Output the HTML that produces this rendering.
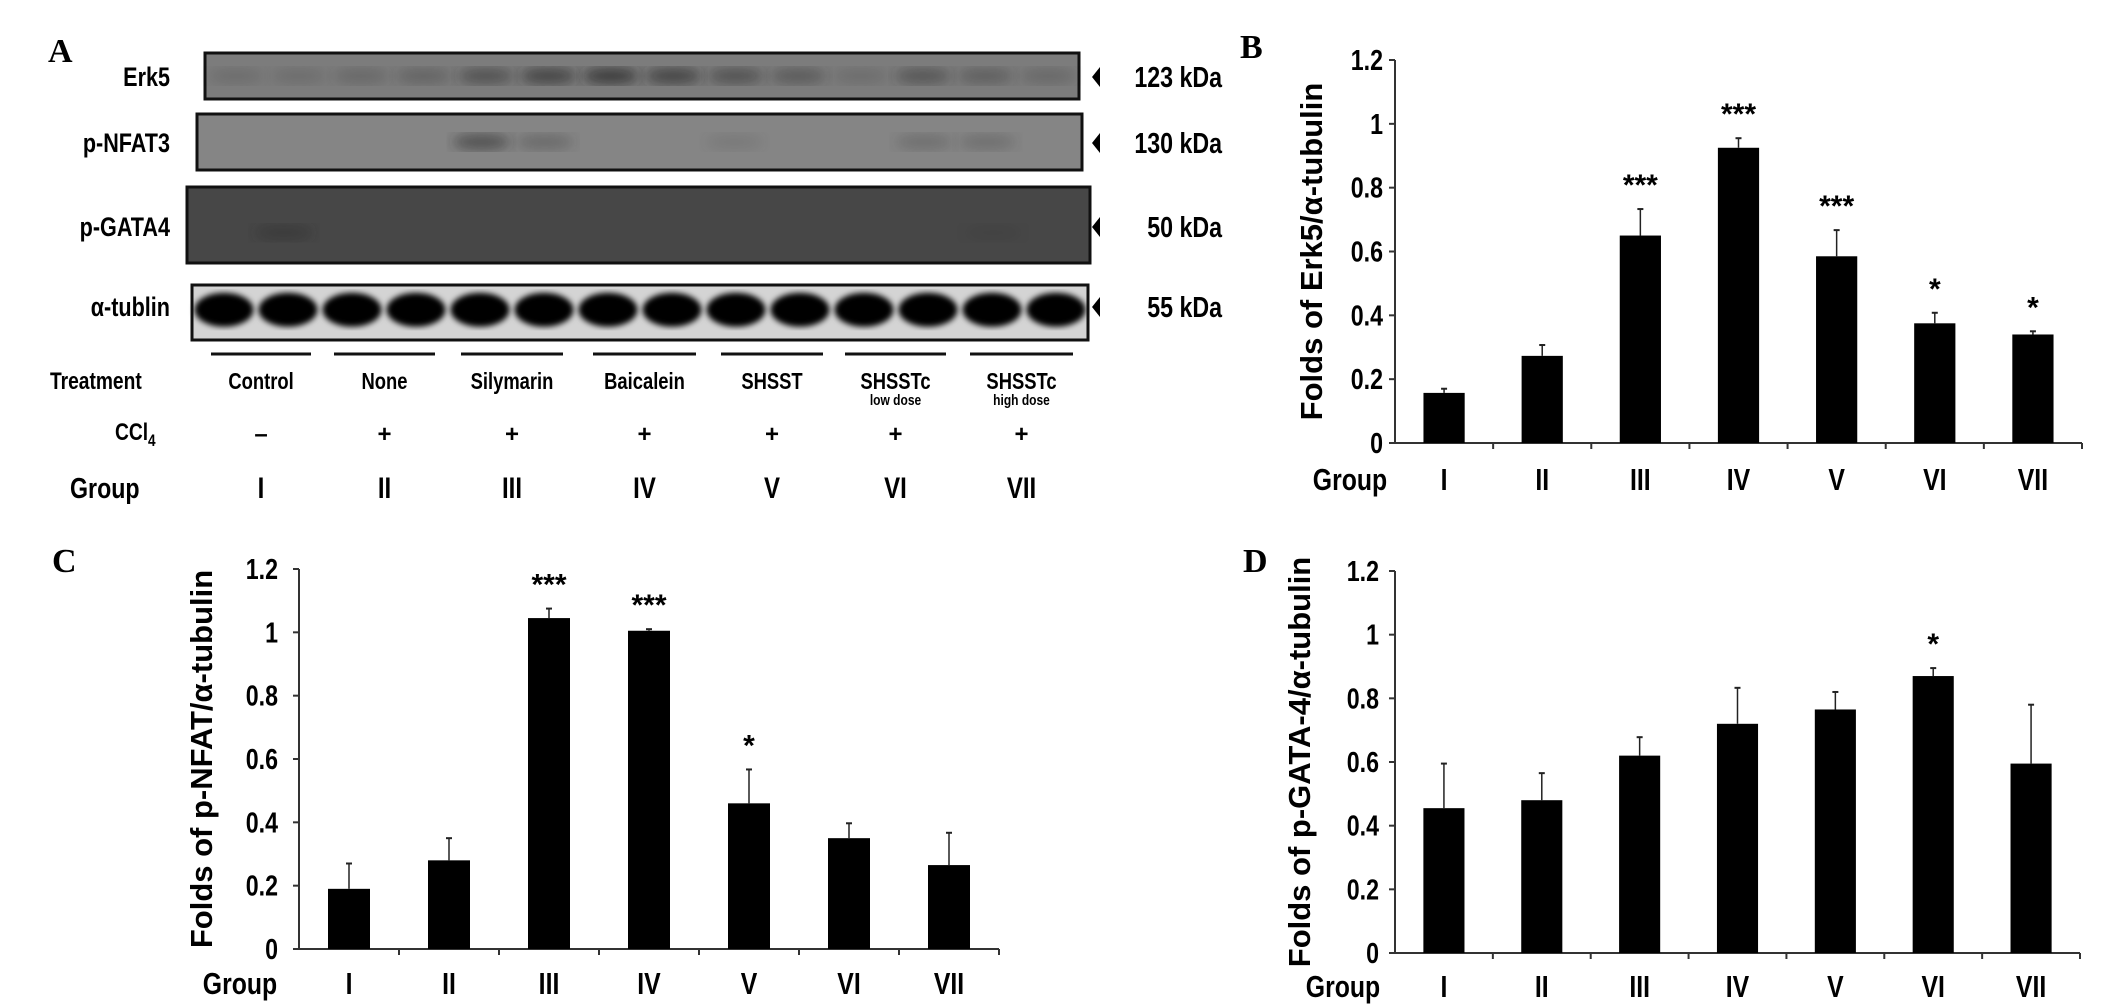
<!DOCTYPE html>
<html><head><meta charset="utf-8">
<style>
html,body{margin:0;padding:0;background:#fff;}
svg{display:block;}
.n{font-family:"Liberation Sans Narrow","Liberation Sans",sans-serif;font-weight:bold;}
.s{font-family:"Liberation Sans",sans-serif;font-weight:bold;}
.serif{font-family:"Liberation Serif",serif;font-weight:bold;}
</style></head>
<body>
<svg id="fig" width="2126" height="1007" viewBox="0 0 2126 1007" xmlns="http://www.w3.org/2000/svg">
<defs>
<filter id="blur3"><feGaussianBlur stdDeviation="3"/></filter>
<filter id="blur6"><feGaussianBlur stdDeviation="6"/></filter>
</defs>
<rect width="2126" height="1007" fill="#fff"/>
<g id="panelA"></g>
<g id="charts"></g>
</svg>
<script>
const groups = ["I","II","III","IV","V","VI","VII"];
const erk5Values = [0.157,0.273,0.65,0.925,0.585,0.375,0.34];
const erk5Errors = [0.013,0.034,0.083,0.03,0.082,0.033,0.01];
const erk5Stars = ["","","***","***","***","*","*"];
const nfatValues = [0.19,0.28,1.045,1.005,0.46,0.35,0.265];
const nfatErrors = [0.08,0.07,0.03,0.005,0.107,0.047,0.102];
const nfatStars = ["","","***","***","*","",""];
const gataValues = [0.455,0.48,0.62,0.72,0.765,0.87,0.595];
const gataErrors = [0.14,0.085,0.058,0.113,0.055,0.025,0.185];
const gataStars = ["","","","","","*",""];
const yTicks = [0,0.2,0.4,0.6,0.8,1,1.2];
const yTickLabels = ["0","0.2","0.4","0.6","0.8","1","1.2"];

const NS="http://www.w3.org/2000/svg";
const svg=document.getElementById('fig');
function mk(tag,attrs,parent,text){
  const e=document.createElementNS(NS,tag);
  if(tag==='text'&&attrs.class==='n'&&!attrs.transform){
    attrs=Object.assign({},attrs);
    attrs.transform=`translate(${attrs.x},${attrs.y}) scale(0.8,1)`;
    attrs.x=0;attrs.y=0;
  }
  for(const k in attrs)e.setAttribute(k,attrs[k]);
  if(text!==undefined)e.textContent=text;
  (parent||svg).appendChild(e);return e;}

function drawChart(o){
  const g=mk('g',{},document.getElementById('charts'));
  
  
  const yS=v=>o.y0-(v/1.2)*(o.y0-o.y1);
  const cw=(o.x1-o.x0)/groups.length;
  const xC=i=>o.x0+cw*(i+0.5);
  const lbl=mk('text',{x:o.lx,y:o.ly,'font-size':34,class:'serif'},g,o.letter);
  
  
  const ax=mk('line',{x1:o.x0,y1:o.y1,x2:o.x0,y2:o.y0,stroke:'#333','stroke-width':2},g);
  
  
  const xa=mk('line',{x1:o.x0,y1:o.y0,x2:o.x1,y2:o.y0,stroke:'#333','stroke-width':2},g);
  
  
  yTicks.forEach((t,i)=>{
    mk('line',{x1:o.x0-6,y1:yS(t),x2:o.x0,y2:yS(t),stroke:'#333','stroke-width':2},g);
    const tl=mk('text',{x:o.x0-o.tgap,y:yS(t)+10,'font-size':29,'text-anchor':'end',class:'n'},g,yTickLabels[i]);
    
    
  });
  for(let i=1;i<=groups.length;i++){mk('line',{x1:o.x0+cw*i,y1:o.y0,x2:o.x0+cw*i,y2:o.y0+6,stroke:'#333','stroke-width':2},g);}
  const tt=mk('text',{x:0,y:0,'font-size':31,'text-anchor':'middle',class:'s',transform:`translate(${o.tx},${(o.y0+o.y1)/2}) rotate(-90)`},g,o.title);
  
  
  const gl=mk('text',{x:o.gx,y:o.gy,'font-size':31,'text-anchor':'middle',class:'n'},g,'Group');
  
  
  const bw=cw*0.42;
  groups.forEach((c,i)=>{
    const v=o.vals[i],e=o.errs[i];
    const b=mk('rect',{x:xC(i)-bw/2,y:yS(v),width:bw,height:o.y0-yS(v),fill:'#000'},g);
    
    
    const eb=mk('line',{x1:xC(i),y1:yS(v),x2:xC(i),y2:yS(v+e),stroke:'#222','stroke-width':1.5},g);
    
    
    mk('line',{x1:xC(i)-3,y1:yS(v+e),x2:xC(i)+3,y2:yS(v+e),stroke:'#222','stroke-width':2},g);
    if(o.stars[i]){
      const s=mk('text',{x:xC(i),y:yS(v+e)-14,'font-size':30,'text-anchor':'middle',class:'s'},g,o.stars[i]);
      
      
    }
    const xl=mk('text',{x:xC(i),y:o.gy,'font-size':31,'text-anchor':'middle',class:'n'},g,c);
    
    
  });
}
drawChart({name:'chart-b-erk5',letter:'B',lx:1240,ly:58,x0:1395,x1:2082,y0:443,y1:60,vals:erk5Values,errs:erk5Errors,stars:erk5Stars,title:'Folds of Erk5/α-tubulin',tx:1322,gx:1350,gy:490,tgap:12});
drawChart({name:'chart-c-p-nfat',letter:'C',lx:52,ly:572,x0:299,x1:999,y0:949,y1:569,vals:nfatValues,errs:nfatErrors,stars:nfatStars,title:'Folds of p-NFAT/α-tubulin',tx:212,gx:240,gy:994,tgap:21});
drawChart({name:'chart-d-p-gata4',letter:'D',lx:1243,ly:572,x0:1395,x1:2080,y0:953,y1:571,vals:gataValues,errs:gataErrors,stars:gataStars,title:'Folds of  p-GATA-4/α-tubulin',tx:1310,gx:1343,gy:997,tgap:16});

// Panel A
const A=document.getElementById('panelA');
const blots=[
 {name:'Erk5',kda:'123 kDa',x:205,y:53,w:874,h:46,bg:'#7c7c7c',band:[0.15,0.15,0.2,0.25,0.45,0.6,0.7,0.6,0.45,0.35,0.15,0.4,0.3,0.2],by:0.5},
 {name:'p-NFAT3',kda:'130 kDa',x:197,y:114,w:885,h:56,bg:'#858585',band:[0,0,0,0,0.5,0.25,0,0,0.1,0,0,0.2,0.2,0],by:0.5},
 {name:'p-GATA4',kda:'50 kDa',x:187,y:187,w:903,h:76,bg:'#474747',band:[0,0.3,0,0,0,0,0,0,0,0,0,0,0.1,0],by:0.6},
 {name:'α-tublin',kda:'55 kDa',x:192,y:285,w:896,h:55,bg:'#d4d4d4',band:[1,1,1,1,1,1,1,1,1,1,1,1,1,1],by:0.45}
];
const lblY=[77,143,227,307];
blots.forEach((b,k)=>{
  const r=mk('rect',{x:b.x,y:b.y,width:b.w,height:b.h,fill:b.bg,stroke:'#111','stroke-width':3},A);
  
  
  const lw=b.w/14;
  b.band.forEach((v,i)=>{
    if(v>0){mk('ellipse',{cx:b.x+lw*(i+0.5),cy:b.y+b.h*b.by,rx:lw*0.46,ry:k==3?17:8,fill:k==3?'#000':'#222',opacity:v,filter:k==3?'url(#blur3)':'url(#blur6)'},A);}
  });
  const t=mk('text',{x:170,y:lblY[k]+9,'font-size':27,'text-anchor':'end',class:'n'},A,b.name);
  
  
  mk('polygon',{points:`${1100},${lblY[k]-10} ${1100},${lblY[k]+10} ${1092},${lblY[k]}`,fill:'#000'},A);
  const kt=mk('text',{x:1222,y:lblY[k]+10,'font-size':29,'text-anchor':'end',class:'n'},A,b.kda);
  
  
});
const treatments=["Control","None","Silymarin","Baicalein","SHSST","SHSSTc","SHSSTc"];
const subs=["","","","","","low dose","high dose"];
const ccl=["–","+","+","+","+","+","+"];
const segs=[[211,311],[334,435],[461,563],[593,696],[721,823],[845,946],[970,1073]];
segs.forEach((s,i)=>{
  mk('line',{x1:s[0],y1:354,x2:s[1],y2:354,stroke:'#111','stroke-width':3},A);
  const c=(s[0]+s[1])/2;
  const t=mk('text',{x:c,y:389,'font-size':23,'text-anchor':'middle',class:'n'},A,treatments[i]);
  
  
  if(subs[i]) mk('text',{x:c,y:405,'font-size':15,'text-anchor':'middle',class:'n','font-weight':'normal'},A,subs[i]);
  mk('text',{x:c,y:442,'font-size':24,'text-anchor':'middle',class:'s'},A,ccl[i]);
  mk('text',{x:c,y:498,'font-size':30,'text-anchor':'middle',class:'n'},A,groups[i]);
});
mk('text',{x:48,y:62,'font-size':34,class:'serif'},A,'A');
mk('text',{x:50,y:389,'font-size':24,class:'n'},A,'Treatment');
const cc=mk('text',{x:115,y:440,'font-size':24,class:'n'},A,'CCl');
mk('tspan',{dy:6,'font-size':17},cc,'4');
mk('text',{x:70,y:498,'font-size':29,class:'n'},A,'Group');
</script>
</body></html>
